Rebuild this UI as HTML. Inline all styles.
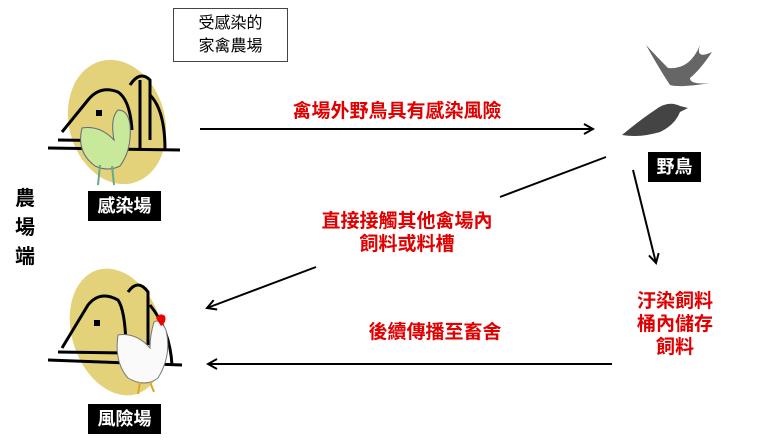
<!DOCTYPE html>
<html><head><meta charset="utf-8">
<style>
html,body{margin:0;padding:0;background:#fff;}
body{width:763px;height:444px;position:relative;overflow:hidden;font-family:"Liberation Sans","Noto Sans CJK TC",sans-serif;}
.t{position:absolute;white-space:nowrap;}
.red{color:#e00000;font-size:19px;text-align:center;line-height:23px;font-weight:bold;}
.lbl{position:absolute;background:#000;color:#fff;font-size:18px;text-align:center;line-height:30px;font-weight:bold;}
</style></head><body>
<svg width="763" height="444" style="position:absolute;left:0;top:0">
<defs><marker id="a" markerWidth="12" markerHeight="12" refX="10" refY="6" orient="auto" markerUnits="userSpaceOnUse"><path d="M1,1 L10,6 L1,11" fill="none" stroke="#000" stroke-width="2"/></marker></defs>
<ellipse cx="117" cy="122" rx="48" ry="63" transform="rotate(-15 117 122)" fill="#e3d27a"/>
<g stroke="#000" fill="none" stroke-width="3">
<path d="M62,132 L88,100 Q100,85 118,92 Q130,100 132,130"/>
<path d="M130,85 Q140,70 150,80 L150,140"/>
<path d="M140,80 L140,150"/>
<path d="M150,95 Q165,110 165,150"/>
<path d="M48,148 L180,150"/><path d="M58,140 L130,141"/>
</g>
<rect x="96" y="110" width="6" height="6" fill="#000"/>
<path d="M82,128 Q76,152 95,166 Q108,172 120,166 Q132,150 130,125 Q128,110 118,110 Q110,118 114,140 Q100,125 82,128Z" fill="#c8e89a" stroke="#667" stroke-width="1"/>
<path d="M100,165 L98,185 M112,166 L114,185" stroke="#6a8" stroke-width="2"/>
<ellipse cx="117" cy="332" rx="45" ry="65" transform="rotate(-18 117 332)" fill="#e3d27a"/>
<g stroke="#000" fill="none" stroke-width="3">
<path d="M62,348 L88,305 Q100,290 118,300 Q125,310 126,345"/>
<path d="M128,292 Q138,278 148,292 L148,345"/>
<path d="M150,305 Q170,330 172,365"/>
<path d="M48,360 L182,365"/><path d="M58,352 L126,353"/>
</g>
<rect x="94" y="320" width="6" height="6" fill="#000"/>
<path d="M118,335 Q114,362 128,378 Q145,388 158,378 Q172,355 166,330 Q160,318 154,322 Q150,335 150,348 Q136,332 118,335Z" fill="#fafafa" stroke="#777" stroke-width="1"/>
<path d="M156,318 q4,-6 9,-2 q2,6 -4,10z" fill="#e00"/>
<path d="M140,382 L138,394 M150,382 L154,392" stroke="#e8a020" stroke-width="2"/>
<path d="M646,45 Q660,60 668,68 Q690,70 700,45 Q695,60 712,52 Q700,70 690,78 Q690,85 710,83 Q680,88 670,85 Q660,70 646,45Z" fill="#666"/>
<path d="M622,135 Q640,120 655,110 Q668,100 680,106 L688,108 L680,112 Q675,125 660,132 Q640,138 622,135Z" fill="#444"/>
<g stroke="#000" stroke-width="2" fill="none">
<line x1="200" y1="129" x2="593" y2="129" marker-end="url(#a)"/>
<line x1="606" y1="157" x2="500" y2="197"/>
<line x1="316" y1="267" x2="207" y2="308" marker-end="url(#a)"/>
<line x1="633" y1="170" x2="656" y2="263" marker-end="url(#a)"/>
<line x1="612" y1="364" x2="208" y2="364" marker-end="url(#a)"/>
</g>
<rect x="173.5" y="8.5" width="114" height="53" fill="#fff" stroke="#444" stroke-width="1"/>
</svg>
<div class="t" style="left:173px;top:12px;width:115px;text-align:center;font-size:16px;line-height:23px;">受感染的<br>家禽農場</div>
<div class="lbl" style="left:88px;top:191px;width:73px;">感染場</div>
<div class="lbl" style="left:88px;top:404px;width:73px;">風險場</div>
<div class="lbl" style="left:648px;top:152px;width:53px;">野鳥</div>
<div class="t" style="left:15px;top:185px;font-size:20px;line-height:29px;width:24px;font-weight:bold;">農<br>場<br>端</div>
<div class="t red" style="left:292px;top:100px;width:210px;">禽場外野鳥具有感染風險</div>
<div class="t red" style="left:302px;top:210px;width:210px;">直接接觸其他禽場內<br>飼料或料槽</div>
<div class="t red" style="left:330px;top:321px;width:210px;">後續傳播至畜舍</div>
<div class="t red" style="left:615px;top:290px;width:120px;">汙染飼料<br>桶內儲存<br>飼料</div>
</body></html>
